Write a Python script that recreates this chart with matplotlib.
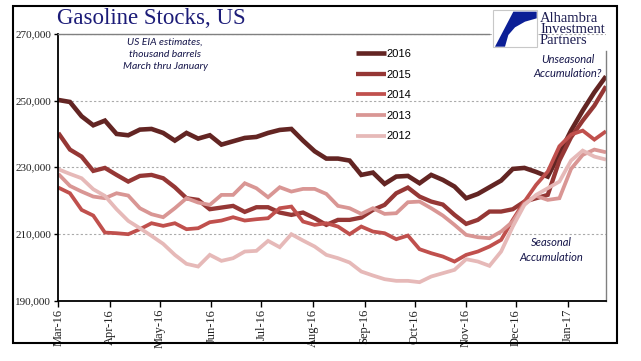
import numpy as np
import pandas as pd
import matplotlib
matplotlib.use("Agg")
import matplotlib.pyplot as plt
import matplotlib.dates as mdates
from matplotlib.patches import Rectangle, Polygon
from matplotlib.ticker import FuncFormatter

# weekly US gasoline stocks, thousand barrels, March thru January
start = "2016-03-01"
n_weeks = 48

s2016 = [250.2, 249.6, 245.3, 242.6, 244.0, 240.0, 239.6, 241.3, 241.5, 240.3,
         238.0, 240.3, 238.6, 239.6, 236.8, 237.8, 238.8, 239.1, 240.3, 241.2,
         241.5, 238.0, 234.8, 232.6, 232.6, 232.0, 227.7, 228.4, 225.0, 227.2,
         227.4, 225.2, 227.7, 226.2, 224.2, 220.7, 222.0, 224.0, 226.0, 229.5,
         229.8, 228.6, 227.2, 234.0, 241.0, 247.0, 252.5, 257.3]
s2015 = [240.3, 235.3, 233.2, 228.9, 229.8, 227.7, 225.7, 227.4, 227.7, 226.7,
         224.0, 220.7, 220.2, 217.4, 217.9, 218.4, 216.6, 218.0, 218.0, 216.4,
         215.7, 216.4, 214.7, 212.7, 214.2, 214.2, 214.9, 217.2, 218.7, 222.2,
         223.9, 221.2, 219.7, 218.8, 215.7, 213.0, 214.2, 216.7, 216.7, 217.4,
         219.7, 220.7, 221.7, 232.0, 239.0, 244.0, 248.5, 254.3]
s2014 = [223.9, 222.2, 217.2, 215.5, 210.4, 210.2, 209.9, 211.4, 213.2, 212.4,
         213.2, 211.4, 211.7, 213.5, 214.0, 215.0, 214.0, 214.4, 214.7, 217.7,
         218.2, 213.7, 212.7, 213.2, 212.2, 209.9, 212.2, 210.7, 210.2, 208.4,
         209.5, 205.4, 204.2, 203.2, 201.7, 203.7, 204.7, 206.2, 208.2, 214.2,
         219.7, 224.7, 228.7, 236.3, 239.8, 241.0, 238.3, 240.8]
s2013 = [228.0, 224.4, 222.7, 221.2, 220.7, 222.2, 221.5, 217.7, 215.9, 215.0,
         217.7, 220.7, 219.4, 218.7, 221.7, 221.7, 225.2, 223.7, 221.0, 224.0,
         222.7, 223.5, 223.5, 222.0, 218.4, 217.7, 216.0, 217.7, 216.0, 216.2,
         219.5, 219.7, 217.7, 215.5, 212.7, 209.7, 209.0, 208.7, 210.7, 213.7,
         219.0, 221.4, 220.2, 220.7, 229.5, 233.7, 235.3, 234.5]
s2012 = [229.4, 228.0, 226.7, 223.4, 221.4, 217.4, 213.9, 211.7, 209.4, 207.0,
         203.7, 201.0, 200.2, 203.7, 201.9, 202.7, 204.7, 204.9, 207.9, 206.0,
         209.9, 208.0, 206.2, 203.7, 202.7, 201.4, 198.7, 197.5, 196.4, 195.9,
         195.9, 195.5, 197.2, 198.2, 199.2, 202.4, 201.7, 200.4, 204.7, 212.2,
         218.7, 221.7, 223.7, 225.7, 232.0, 235.0, 233.2, 232.3]

years = ["2016", "2015", "2014", "2013", "2012"]
series = [s2016, s2015, s2014, s2013, s2012]
colors = ["#632523", "#953735", "#C0504D", "#D99694", "#E6B9B8"]
widths = [3.3, 3.1, 2.7, 2.7, 2.7]

dates = pd.date_range(start, periods=n_weeks, freq="7D")

W, H = 641, 361
fig = plt.figure(figsize=(W / 100, H / 100), dpi=100)


def fx(px):
    return px / W


def fy(py):
    return 1 - py / H


ax = fig.add_axes([fx(58.3), fy(300.5), fx(606) - fx(58.3), fy(34) - fy(300.5)])

for yr, s, c, lw in zip(years, series, colors, widths):
    ax.plot(dates, np.array(s) * 1000, color=c, lw=lw, label=yr,
            solid_joinstyle="miter", solid_capstyle="butt")

ax.set_xlim(dates[0], dates[-1])
ax.set_ylim(190000, 270000)
ax.set_yticks([190000, 210000, 230000, 250000, 270000])
ax.yaxis.set_major_formatter(FuncFormatter(lambda v, p: f"{int(v):,}"))
ax.xaxis.set_major_locator(mdates.MonthLocator())
ax.xaxis.set_major_formatter(mdates.DateFormatter("%b-%y"))
for lab in ax.get_xticklabels():
    lab.set_rotation(90)

serif = ["Liberation Serif", "DejaVu Serif"]
ax.tick_params(axis="x", direction="out", length=4, width=1, pad=2, labelsize=9)
ax.tick_params(axis="y", direction="out", length=3, width=1, pad=2, labelsize=8)
for lab in ax.get_xticklabels() + ax.get_yticklabels():
    lab.set_family(serif)
    lab.set_color("#222222")

ax.grid(axis="y", ls=(0, (2, 2)), color="#aaaaaa", lw=0.8)
ax.set_axisbelow(True)

for sp in ["left", "bottom"]:
    ax.spines[sp].set_color("black")
    ax.spines[sp].set_linewidth(1.3)
for sp in ["top", "right"]:
    ax.spines[sp].set_color("#808080")
    ax.spines[sp].set_linewidth(1.0)
ax.spines["top"].set_bounds(mdates.date2num(dates[0]),
                            mdates.date2num(pd.Timestamp("2016-11-15")))
ax.spines["right"].set_bounds(190000, 265000)

leg = ax.legend(loc="upper left", bbox_to_anchor=(0.543, 0.943), frameon=False,
                handlelength=2.7, handletextpad=0.05, labelspacing=0.95,
                borderpad=0, borderaxespad=0, prop={"family": "Liberation Sans", "size": 8})

it = {"family": ["Lato", "DejaVu Sans"], "style": "italic", "color": "#15154a"}
ax.text(0.195, 0.985, "US EIA estimates,\nthousand barrels\nMarch thru January",
        transform=ax.transAxes, ha="center", va="top", fontsize=7.5, linespacing=1.45, **it)
ax.text(0.93, 0.925, "Unseasonal\nAccumulation?", transform=ax.transAxes,
        ha="center", va="top", fontsize=8, linespacing=1.35, **it)
ax.text(0.9, 0.24, "Seasonal\nAccumulation", transform=ax.transAxes,
        ha="center", va="top", fontsize=8, linespacing=1.5, **it)

fig.text(fx(57), fy(19), "Gasoline Stocks, US", family=serif, fontsize=16.5,
         color="#1c1c78", ha="left", va="center")

# outer border
fig.patches.append(Rectangle((fx(13), fy(343)), fx(617) - fx(13), fy(6) - fy(343),
                             transform=fig.transFigure, fill=False, ec="black", lw=1.5))

# logo
fig.patches.append(Rectangle((fx(493), fy(47)), fx(537) - fx(493), fy(10) - fy(47),
                             transform=fig.transFigure, fc="white", ec="#c8c8c8", lw=0.8))
pts = [(100, 35), (170, 35), (170, 55), (135, 65), (105, 82), (85, 105), (75, 140), (45, 140)]
fig.patches.append(Polygon([(fx(480 + X / 3), fy(Y / 3)) for X, Y in pts],
                           transform=fig.transFigure, fc="#0c1f96", ec="none"))
fig.text(fx(540), fy(29.5), "Alhambra\nInvestment\nPartners", family=serif, fontsize=10.5,
         color="#1c1c50", ha="left", va="center", linespacing=0.82)

fig.savefig("out.png", dpi=100)
